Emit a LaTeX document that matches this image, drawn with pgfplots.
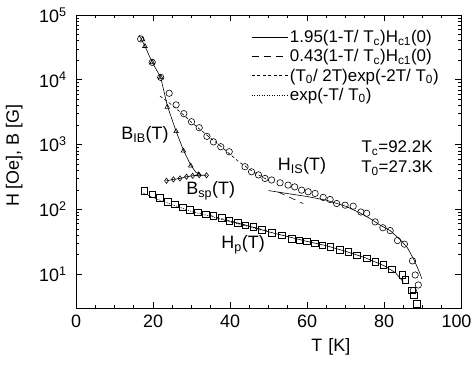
\documentclass[border=0pt]{standalone}
\usepackage{pgfplots}
\pgfplotsset{compat=1.18}
\usepackage{fontspec}
\setmainfont{Liberation Sans}
\begin{document}
\begin{tikzpicture}[x=1bp,y=1bp]
\path[use as bounding box] (0,0) rectangle (474,367);
\begin{axis}[
  at={(76bp,59bp)}, anchor=south west,
  scale only axis, width=385bp, height=293bp,
  xmin=0, xmax=100, ymode=log, ymin=3, ymax=1e5,
  xtick={0,20,40,60,80,100}, minor x tick num=3,
  xticklabels={0,20,40,60,80,\hspace*{-9bp}100},
  ytick={10,100,1000,10000,100000},
  yticklabels={10\textsuperscript{1},10\textsuperscript{2},10\textsuperscript{3},10\textsuperscript{4},10\textsuperscript{5}},
  tick align=inside, major tick length=6bp, minor tick length=3bp,
  every tick/.style={black, line width=0.6bp},
  axis line style={line width=0.9bp},
  ticklabel style={font=\fontsize{18}{20}\selectfont},
  xticklabel style={yshift=-3bp},
  yticklabel style={xshift=-6bp},
  xlabel={T\,\,[K]}, ylabel={H [Oe], B [G]},
  label style={font=\fontsize{18}{20}\selectfont},
  xlabel style={at={(rel axis cs:0.662,0)}, anchor=north, yshift=-27bp},
  ylabel style={at={(rel axis cs:0,0.52)}, anchor=south, yshift=50bp},
  legend style={at={(rel axis cs:0.455,0.955)}, anchor=north west, draw=none, fill=none,
    font=\fontsize{17}{19}\selectfont, row sep=1.5bp, inner sep=0pt},
  legend cell align=left,
  legend image code/.code={\draw[#1] (0bp,0bp) -- (36bp,0bp);},
  every axis plot/.append style={line width=0.6bp, black},
]
\addlegendimage{solid}
\addlegendentry{1.95(1-T/ T\textsubscript{c})H\textsubscript{c1}(0)}
\addlegendimage{dash pattern=on 7bp off 5bp}
\addlegendentry{0.43(1-T/ T\textsubscript{c})H\textsubscript{c1}(0)}
\addlegendimage{dash pattern=on 3bp off 2.5bp}
\addlegendentry{(T\textsubscript{0}/ 2T)exp(-2T/ T\textsubscript{0})}
\addlegendimage{dash pattern=on 1.2bp off 1.3bp}
\addlegendentry{exp(-T/ T\textsubscript{0})}

% B_IB solid line
\addplot[solid, forget plot] coordinates {
(16.4,49000)(17.9,33000)(19.8,18600)(22.0,10900)(23.7,4000)(26.0,1600)(27.9,820)(29.8,480)(31.2,370)(32.5,340)};
% B_sp solid line through diamonds
\addplot[solid, mark=diamond, mark size=2.6bp, mark options={solid, fill=white}, forget plot] coordinates {
(23.5,276)(25.3,290)(27.0,300)(28.7,319)(30.3,330)(32.0,337)(33.9,335)};
% short dashed along H_IS (low T)
\addplot[dash pattern=on 3bp off 2.5bp, forget plot] coordinates {
(21.8,5600)(24,4500)(26,3600)(28,2850)(30,2200)(34,1400)(38,900)(42,560)(46,380)(50,280)};
% long dashed segment
\addplot[dash pattern=on 7bp off 5bp, forget plot] coordinates {
(52.5,185)(59,123)};
% solid H_IS
\addplot[solid, forget plot] coordinates {
(50,195)(55,175)(60,158)(65.1,138)(70,112)(73.8,88)(76.4,72)(79,57)(81.6,47)(84.2,34)(86,26)(87.6,17.5)(88.6,13)(89.4,10)(89.8,8.5)};
% solid H_p
\addplot[solid, forget plot] coordinates {
(40,66)(45,55)(50,45)(55,38)(60,32)(65,27.5)(70,22.5)(75,18)(80,13.5)(83,10.5)(85,7.6)};
% dotted H_p low T
\addplot[dash pattern=on 1.2bp off 1.3bp, forget plot] coordinates {
(17.5,178)(20,152)(25,118)(30,93)(35,78)(40,64)(45,54)(48,48)};
% short dashed H_p
\addplot[dash pattern=on 3bp off 2.5bp, forget plot] coordinates {
(35,80)(40,66)(45,55)(50,46)};

% circles H_IS
\addplot[only marks, mark=o, mark size=3.2bp, forget plot] coordinates {
(16.8,42700)(19.8,18600)(22.0,10900)(24.2,6200)(26.0,4100)(28.0,3000)(30.0,2250)(32.0,1820)
(34.0,1340)(35.7,1100)(37.6,925)(39.8,775)(43.9,455)(45.6,380)(47.4,340)(49.1,300)(50.8,284)
(53.0,257)(55.1,237)(56.8,222)(58.6,198)(60.3,187)(62.1,176)(64.2,153)(66.0,142)(67.7,123)
(69.9,116)(72.0,112)(74.0,91)(75.5,87)(77.7,64)(79.7,52)(81.6,47)(83.5,33)(85.3,29)(87.4,16)
(88.1,9.7)(88.9,6.8)(87.6,5.6)};
% triangles B_IB
\addplot[only marks, mark=triangle, mark size=2.6bp, forget plot] coordinates {
(17.3,41700)(17.9,33000)(19.8,18600)(22.0,10900)(23.7,3800)(26.0,1600)(27.9,800)(29.8,470)(31.8,345)};
% squares H_p
\addplot[only marks, mark=square, mark size=3.3bp, forget plot] coordinates {
(17.7,195)(19.8,170)(21.8,150)(23.8,130)(25.7,120)(27.7,108)(29.6,98)(31.7,90)(33.7,84)(35.7,80)
(37.8,74)(39.8,67)(42.0,62)(44.0,57)(46.0,54)(48.2,48)(50.8,43)(53.5,40)(56.0,35)(58.0,33.5)
(60.0,32)(62.0,30)(64.0,28)(66.0,26.5)(68.5,23.5)(70.7,22)(72.9,19.6)(75.5,17.5)(77.7,15.5)
(79.8,13.8)(82.0,11.8)(84.8,9.7)(85.5,8.1)(87.2,5.6)(87.8,4.7)(88.5,3.5)};

\node[font=\fontsize{18}{20}\selectfont] at (rel axis cs:0.179,0.590) {B\textsubscript{IB}(T)};
\node[font=\fontsize{18}{20}\selectfont] at (rel axis cs:0.350,0.400) {B\textsubscript{sp}(T)};
\node[font=\fontsize{18}{20}\selectfont] at (rel axis cs:0.587,0.485) {H\textsubscript{IS}(T)};
\node[font=\fontsize{18}{20}\selectfont] at (rel axis cs:0.434,0.215) {H\textsubscript{p}(T)};
\node[font=\fontsize{17}{19}\selectfont] at (rel axis cs:0.834,0.546) {T\textsubscript{c}=92.2K};
\node[font=\fontsize{17}{19}\selectfont] at (rel axis cs:0.834,0.478) {T\textsubscript{0}=27.3K};
\end{axis}
\end{tikzpicture}
\end{document}
